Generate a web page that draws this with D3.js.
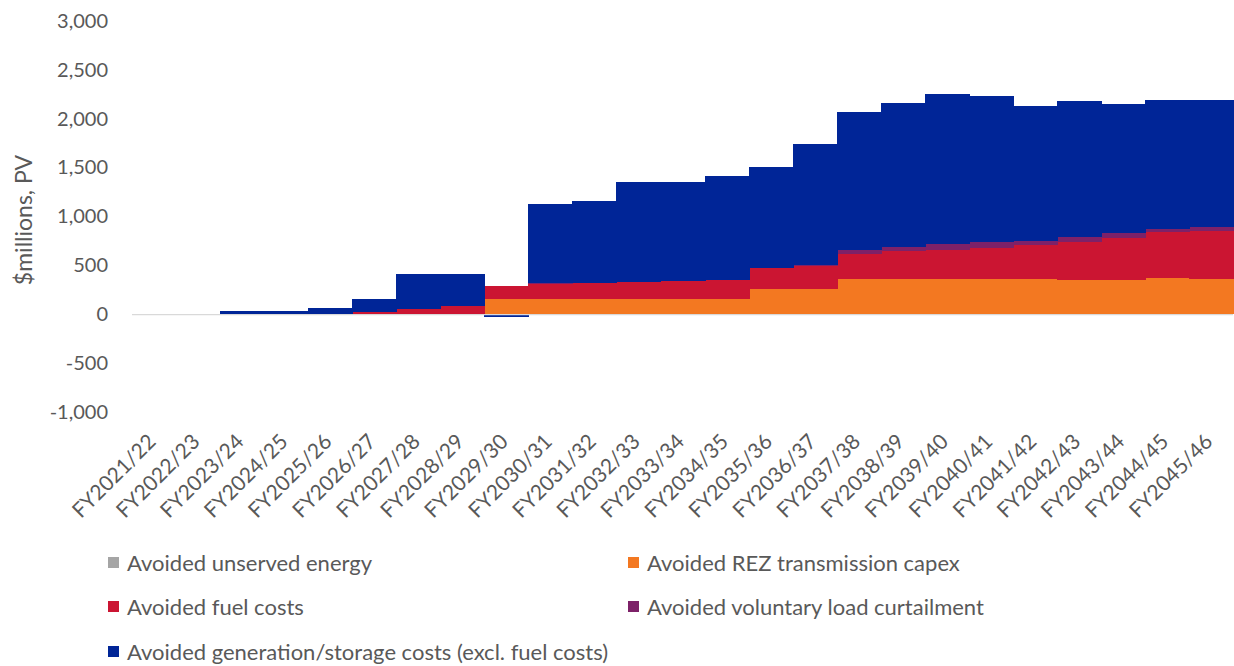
<!DOCTYPE html>
<html>
<head>
<meta charset="utf-8">
<script src="https://cdn.jsdelivr.net/npm/d3@7"></script>
<style>
  body { margin: 0; background: #fff; }
  text { font-family: Lato, "Open Sans", sans-serif; fill: #595959; }
</style>
</head>
<body>
<svg id="chart"></svg>
<script>
// categories and series (values in $millions, PV)
let years = ['FY2021/22','FY2022/23','FY2023/24','FY2024/25','FY2025/26','FY2026/27','FY2027/28','FY2028/29',
  'FY2029/30','FY2030/31','FY2031/32','FY2032/33','FY2033/34','FY2034/35','FY2035/36','FY2036/37',
  'FY2037/38','FY2038/39','FY2039/40','FY2040/41','FY2041/42','FY2042/43','FY2043/44','FY2044/45','FY2045/46']

let unserved   = [0,0,0,0,0,0,0,0, 0,0,0,0,0,0,0,0, 0,0,0,0,0,0,0,0,0]
let rezCapex   = [0,0,0,0,0,0,0,0, 150,150,150,150,150,150,253,253, 355,355,355,355,355,345,345,369,355]
let fuel       = [0,0,0,0,0,17,51,82, 140,161,167,177,187,196,216,237, 262,290,303,317,351,392,433,474,498]
let voluntary  = [0,0,0,0,0,0,0,0, 0,3,3,4,4,5,5,8, 38,38,55,65,41,51,51,24,41]
let generation = [0,0,30,30,58,133,359,324, -35,809,837,1024,1014,1059,1028,1239, 1410,1474,1536,1498,1379,1393,1318,1327,1300]

let seriesNames = ['Avoided unserved energy','Avoided REZ transmission capex','Avoided fuel costs',
  'Avoided voluntary load curtailment','Avoided generation/storage costs (excl. fuel costs)']
let seriesKeys = ['unserved','rez','fuel','vlc','gen']
let colors = ['#a5a5a5','#f37821','#cb1532','#7d2168','#002597']

let yTicks = [-1000,-500,0,500,1000,1500,2000,2500,3000]

let width = 1234
let height = 666
let plotLeft = 132
let plotRight = 1233
let plotTop = 21
let plotBottom = 411.7

let rows = years.map((y, i) => ({
  year: y,
  unserved: unserved[i],
  rez: rezCapex[i],
  fuel: fuel[i],
  vlc: voluntary[i],
  gen: generation[i]
}))

let svg = d3.select('#chart').attr('width', width).attr('height', height)

let xScale = d3.scaleBand().domain(years).range([plotLeft, plotRight]).paddingInner(0).paddingOuter(0)
let yScale = d3.scaleLinear().domain([-1000, 3000]).range([plotBottom, plotTop])

let stacked = d3.stack().keys(seriesKeys).offset(d3.stackOffsetDiverging)(rows)

// bars with no gap, so the stacks read as steps
svg.append('g').selectAll('g')
  .data(stacked)
  .enter()
  .append('g')
  .attr('fill', (s, i) => colors[i])
  .selectAll('rect')
  .data(s => s)
  .enter()
  .append('rect')
  .attr('shape-rendering', 'crispEdges')
  .attr('x', d => xScale(d.data.year))
  .attr('width', xScale.bandwidth() + 1)
  .attr('y', d => yScale(Math.max(d[0], d[1])))
  .attr('height', d => Math.abs(yScale(d[0]) - yScale(d[1])))

// zero line
svg.append('line')
  .attr('x1', plotLeft).attr('x2', plotRight)
  .attr('y1', yScale(0) + 0.5).attr('y2', yScale(0) + 0.5)
  .attr('stroke', '#d9d9d9').attr('stroke-width', 1.2)

// y axis labels
let yAxis = d3.axisLeft(yScale).tickValues(yTicks)
  .tickFormat(v => d3.format(',')(v).replace('\u2212', '-'))
  .tickSize(0).tickPadding(0)
let yg = svg.append('g').attr('transform', 'translate(108,0)').call(yAxis)
yg.select('.domain').remove()
yg.selectAll('text').attr('font-size', 20).style('font-family', 'Lato, sans-serif').attr('fill', '#595959')

svg.append('text')
  .attr('transform', 'translate(32,' + 220 + ') rotate(-90)')
  .attr('text-anchor', 'middle')
  .attr('font-size', 23)
  .text('$millions, PV')

// x axis labels, rotated
let xg = svg.append('g')
xg.selectAll('text')
  .data(years)
  .enter()
  .append('text')
  .attr('font-size', 21)
  .attr('text-anchor', 'end')
  .attr('transform', d => 'translate(' + (xScale(d) + xScale.bandwidth() / 2 + 3) + ',443) rotate(-45)')
  .text(d => d)

// legend
let legendPos = [[108,563],[628,563],[108,607],[628,607],[108,652]]
let lg = svg.append('g')
seriesNames.forEach((name, k) => {
  let p = legendPos[k]
  lg.append('rect')
    .attr('x', p[0]).attr('y', p[1] - 6)
    .attr('width', 11).attr('height', 11)
    .attr('fill', colors[k])
  lg.append('text')
    .attr('x', p[0] + 19).attr('y', p[1] + 7.5)
    .attr('font-size', 22)
    .text(name)
})
</script>
</body>
</html>
